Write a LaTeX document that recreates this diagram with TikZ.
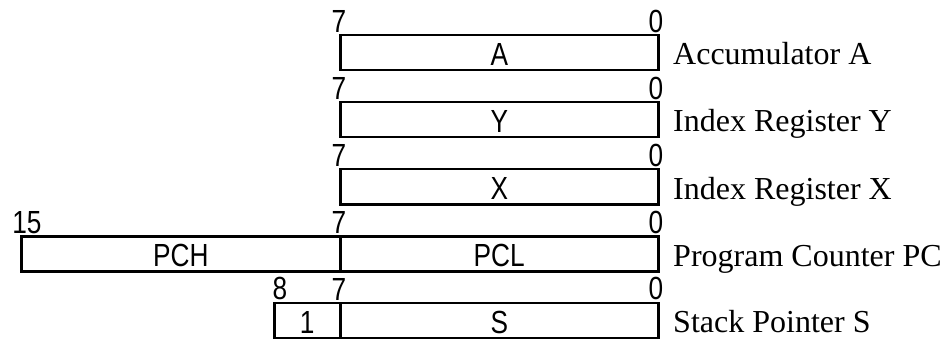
\documentclass[tikz,border=0pt]{standalone}
\usepackage{fontspec}
\usetikzlibrary{calc}
\setmainfont{Liberation Serif}
\newfontfamily\regfont{Liberation Sans}[FakeStretch=0.82]
\begin{document}
\begin{tikzpicture}[x=1pt,y=-1pt]
\tikzset{
  reg/.style={draw, line width=2.5pt, inner sep=0pt, anchor=north west,
    minimum height=35pt},
  txt/.style={font=\regfont\fontsize{32}{33}\selectfont, inner sep=0pt, anchor=base},
  bit/.style={font=\regfont\fontsize{32}{33}\selectfont, inner sep=0pt, anchor=south},
  lbl/.style={font=\fontsize{32}{34}\selectfont, anchor=base west, inner sep=0pt}
}
\useasboundingbox (0,0) rectangle (944,339);
% Accumulator A
\node[reg, minimum width=318pt] (A) at (339,34) {};
\node[txt] (At) at ($(A.south)+(0,-6)$) {A};
\node[bit] (a7) at (339,33) {7};
\node[bit] (a0) at (656,33) {0};
\node[lbl] (la) at (673,65) {Accumulator A};
% Index Y
\node[reg, minimum width=318pt] (Y) at (339,101) {};
\node[txt] (Yt) at ($(Y.south)+(0,-6)$) {Y};
\node[bit] (y7) at (339,100) {7};
\node[bit] (y0) at (656,100) {0};
\node[lbl] (ly) at (673,132) {Index Register Y};
% Index X
\node[reg, minimum width=318pt] (X) at (339,168) {};
\node[txt] (Xt) at ($(X.south)+(0,-6)$) {X};
\node[bit] (x7) at (339,167) {7};
\node[bit] (x0) at (656,167) {0};
\node[lbl] (lx) at (673,199) {Index Register X};
% Program counter
\node[reg, minimum width=319pt] (PCH) at (20,235) {};
\node[txt] (PCHt) at ($(PCH.south)+(0,-6)$) {PCH};
\node[reg, minimum width=318pt] (PCL) at (339,235) {};
\node[txt] (PCLt) at ($(PCL.south)+(0,-6)$) {PCL};
\node[bit] (p15) at (27,234) {15};
\node[bit] (p7) at (339,234) {7};
\node[bit] (p0) at (656,234) {0};
\node[lbl] (lp) at (673,266) {Program Counter PC};
% Stack pointer
\node[reg, minimum width=66pt] (S1) at (273,301.5) {};
\node[txt] (S1t) at ($(S1.south)+(0,-6)$) {1};
\node[reg, minimum width=318pt] (S) at (339,301.5) {};
\node[txt] (St) at ($(S.south)+(0,-6)$) {S};
\node[bit] (s8) at (280,300.5) {8};
\node[bit] (s7) at (339,300.5) {7};
\node[bit] (s0) at (656,300.5) {0};
\node[lbl] (ls) at (673,332.5) {Stack Pointer S};
\end{tikzpicture}
\end{document}
